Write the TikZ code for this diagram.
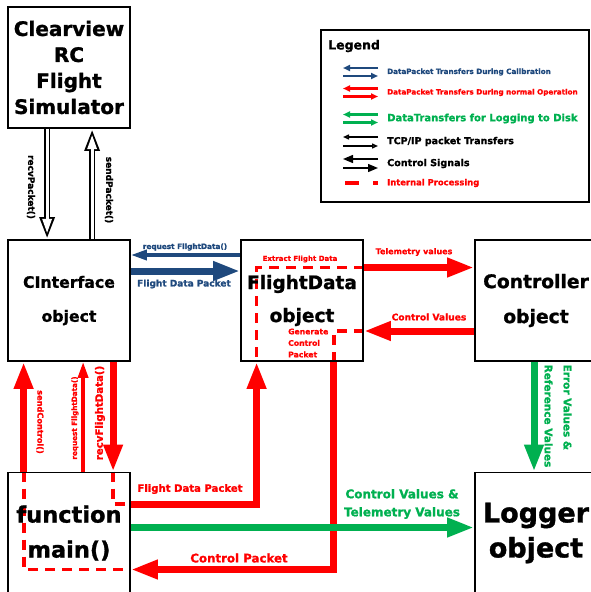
\documentclass[tikz,border=0pt]{standalone}
\usepackage{fontspec}
\setmainfont{DejaVu Sans}[BoldFeatures={FakeBold=1.2}]
\usepackage{tikz}
\usetikzlibrary{positioning, arrows.meta, backgrounds}

\definecolor{calblue}{RGB}{31,73,125}
\definecolor{logreen}{RGB}{0,176,80}
\newcommand{\setfs}[2]{\fontsize{#1}{#2}\selectfont\bfseries}

\begin{document}
\begin{tikzpicture}[x=1pt, y=-1pt,
    box/.style={draw, line width=1.8pt, minimum width=122pt, minimum height=121pt, align=center, inner sep=0pt},
    lbl/.style={inner sep=0pt, align=center},
    legtxt/.style={anchor=west, inner sep=0pt},
    fat/.style={line width=7pt, -{Triangle[length=27pt, width=18pt]}},
    slim/.style={line width=3.5pt, -{Triangle[length=16pt, width=10pt]}},
    hollow/.style={line width=6.5pt, -{Triangle[length=22pt, width=14pt]},
        postaction={draw=white, line width=3pt, shorten >=5.8pt, -{Triangle[length=14.5pt, width=9pt]}}},
    intproc/.style={draw=red, line width=3.5pt, dash pattern=on 10pt off 7pt},
    legpair/.style={line width=2.5pt, -{Triangle[length=7pt, width=6pt]}},
    tcparr/.style={line width=1.4pt, -{Triangle[open, length=6pt, width=5pt]}},
    ctlarr/.style={line width=1.4pt, -{Triangle[length=10pt, width=8pt]}},
]
\useasboundingbox (0, 0) rectangle (590, 592);

% === Objects ===
\node[box, font=\setfs{20}{26}] at (69, 67.5) (sim) {Clearview\\RC\\Flight\\Simulator};
\node[box, font=\setfs{15.7}{34}] at (69, 300.5) (ci) {CInterface\\object};
\node[box, font=\setfs{18.5}{33}] at (302, 300.5) (fd) {FlightData\\object};
\node[box, font=\setfs{18.7}{35}] at (536, 300.5) (ctrl) {Controller\\object};
\node[box, font=\setfs{22.5}{35}] at (69, 533) (mainf) {function\\main()};
\node[box, font=\setfs{27}{35}] at (536, 533) (log) {Logger\\object};

% === Legend ===
\node[draw, line width=1.8pt, minimum width=268pt, minimum height=172pt, inner sep=0pt] at (455, 116) (legend) {};
\node[legtxt, font=\setfs{12.5}{15}] at (328, 46) (legtitle) {Legend};
\node[legtxt, text=calblue, font=\setfs{7.2}{9}] at (387, 72) (leg1) {DataPacket Transfers During Calibration};
\node[legtxt, text=red, font=\setfs{7.2}{9}] at (387, 92.5) (leg2) {DataPacket Transfers During normal Operation};
\node[legtxt, text=logreen, font=\setfs{10}{12}] at (387, 118.5) (leg3) {DataTransfers for Logging to Disk};
\node[legtxt, font=\setfs{9.5}{11}] at (387, 141.5) (leg4) {TCP/IP packet Transfers};
\node[legtxt, font=\setfs{9.6}{11}] at (387, 163.5) (leg5) {Control Signals};
\node[legtxt, text=red, font=\setfs{8.4}{10}] at (387, 183) (leg6) {Internal Processing};

\foreach \n/\col in {leg1/calblue, leg2/red, leg3/logreen} {
    \draw[legpair, color=\col] ([xshift=-9pt, yshift=4pt]\n.west) -- ([xshift=-44pt, yshift=4pt]\n.west);
    \draw[legpair, color=\col] ([xshift=-44pt, yshift=-4pt]\n.west) -- ([xshift=-9pt, yshift=-4pt]\n.west);
}
\draw[tcparr] ([xshift=-9pt, yshift=4.5pt]leg4.west) -- ([xshift=-44pt, yshift=4.5pt]leg4.west);
\draw[tcparr] ([xshift=-44pt, yshift=-4.5pt]leg4.west) -- ([xshift=-9pt, yshift=-4.5pt]leg4.west);
\draw[ctlarr] ([xshift=-9pt, yshift=4.5pt]leg5.west) -- ([xshift=-44pt, yshift=4.5pt]leg5.west);
\draw[ctlarr] ([xshift=-44pt, yshift=-4.5pt]leg5.west) -- ([xshift=-9pt, yshift=-4.5pt]leg5.west);
\draw[intproc, dash pattern=on 14pt off 14pt] ([xshift=-42pt]leg6.west) -- ([xshift=-9pt]leg6.west);

% === TCP/IP link to the simulator ===
\draw[hollow] ([xshift=40pt]sim.south west) -- ([xshift=40pt]ci.north west);
\draw[hollow] ([xshift=85pt]ci.north west) -- ([xshift=85pt]sim.south west);
\node[lbl, rotate=-90, font=\setfs{9}{10}] at (31, 187) (recvpk) {recvPacket()};
\node[lbl, rotate=-90, font=\setfs{9}{10}] at (109, 190) (sendpk) {sendPacket()};

% === Calibration (blue) ===
\draw[slim, calblue] ([yshift=45.5pt]fd.west) -- ([yshift=45.5pt]ci.east);
\draw[fat, calblue] ([yshift=29.5pt]ci.east) -- ([yshift=29.5pt]fd.west);
\node[lbl, text=calblue, font=\setfs{7.3}{9}] at (185, 247) (reqfd) {request FlightData()};
\node[lbl, text=calblue, font=\setfs{9}{11}] at (184, 284) (fdpk1) {Flight Data Packet};

% === Normal operation (red) ===
\draw[fat, red] ([xshift=16.5pt]mainf.north west) -- ([xshift=16.5pt]ci.south west);
\draw[slim, red] ([xshift=76pt]mainf.north west) -- ([xshift=76pt]ci.south west);
\draw[fat, red] ([xshift=106pt]ci.south west) -- ([xshift=106pt]mainf.north west);
\draw[fat, red] ([yshift=29pt]mainf.east) -| ([xshift=16.5pt]fd.south west);
\draw[fat, red] ([yshift=33pt]fd.east) -- ([yshift=33pt]ctrl.west);
\draw[fat, red] ([yshift=-30.5pt]ctrl.west) -- ([yshift=-30.5pt]fd.east);
\draw[fat, red] ([xshift=-30pt]fd.south east) |- ([yshift=-36.5pt]mainf.east);

\node[lbl, text=red, rotate=-90, font=\setfs{8.2}{10}] at (40, 422) (sendctl) {sendControl()};
\node[lbl, text=red, rotate=90, font=\setfs{7.2}{9}] at (75, 418) (reqfd2) {request FlightData()};
\node[lbl, text=red, rotate=90, font=\setfs{10.2}{12}] at (100, 413) (recvfd) {recvFlightData()};
\node[lbl, text=red, font=\setfs{10.1}{12}] at (190, 489) (fdpk2) {Flight Data Packet};
\node[lbl, text=red, font=\setfs{11.8}{14}] at (239, 558) (ctlpk) {Control Packet};
\node[lbl, text=red, font=\setfs{8}{10}] at (414, 252) (telem) {Telemetry values};
\node[lbl, text=red, font=\setfs{9.1}{11}] at (429, 317) (ctrlv) {Control Values};
\node[lbl, text=red, font=\setfs{7}{9}] at (300, 259) (extract) {Extract Flight Data};
\node[lbl, text=red, align=left, anchor=west, font=\setfs{7.7}{11.5}] at (288, 343) (gencp) {Generate\\Control\\Packet};

% internal processing
\begin{scope}[on background layer]
\draw[intproc] ([yshift=33pt]fd.east) -| ([xshift=16.5pt]fd.south west);
\draw[intproc] ([yshift=-30.5pt]fd.east) -| ([xshift=-30pt]fd.south east);
\draw[intproc] ([xshift=17pt]mainf.north west) |- ([yshift=-36.5pt]mainf.east);
\draw[intproc] ([xshift=106pt]mainf.north west) |- ([yshift=29pt]mainf.east);
\end{scope}

% === Logging (green) ===
\draw[fat, logreen] ([yshift=5.5pt]mainf.east) -- ([yshift=5.5pt]log.west);
\draw[fat, logreen] ([xshift=-2pt]ctrl.south) -- ([xshift=-2pt]log.north);
\node[lbl, text=logreen, font=\setfs{12}{18}] at (402, 504) (logvals) {Control Values \&\\Telemetry Values};
\node[lbl, text=logreen, rotate=-90, align=left, font=\setfs{10.5}{19}] at (558, 416) (errvals) {Error Values \&\\Reference Values};

\end{tikzpicture}
\end{document}
